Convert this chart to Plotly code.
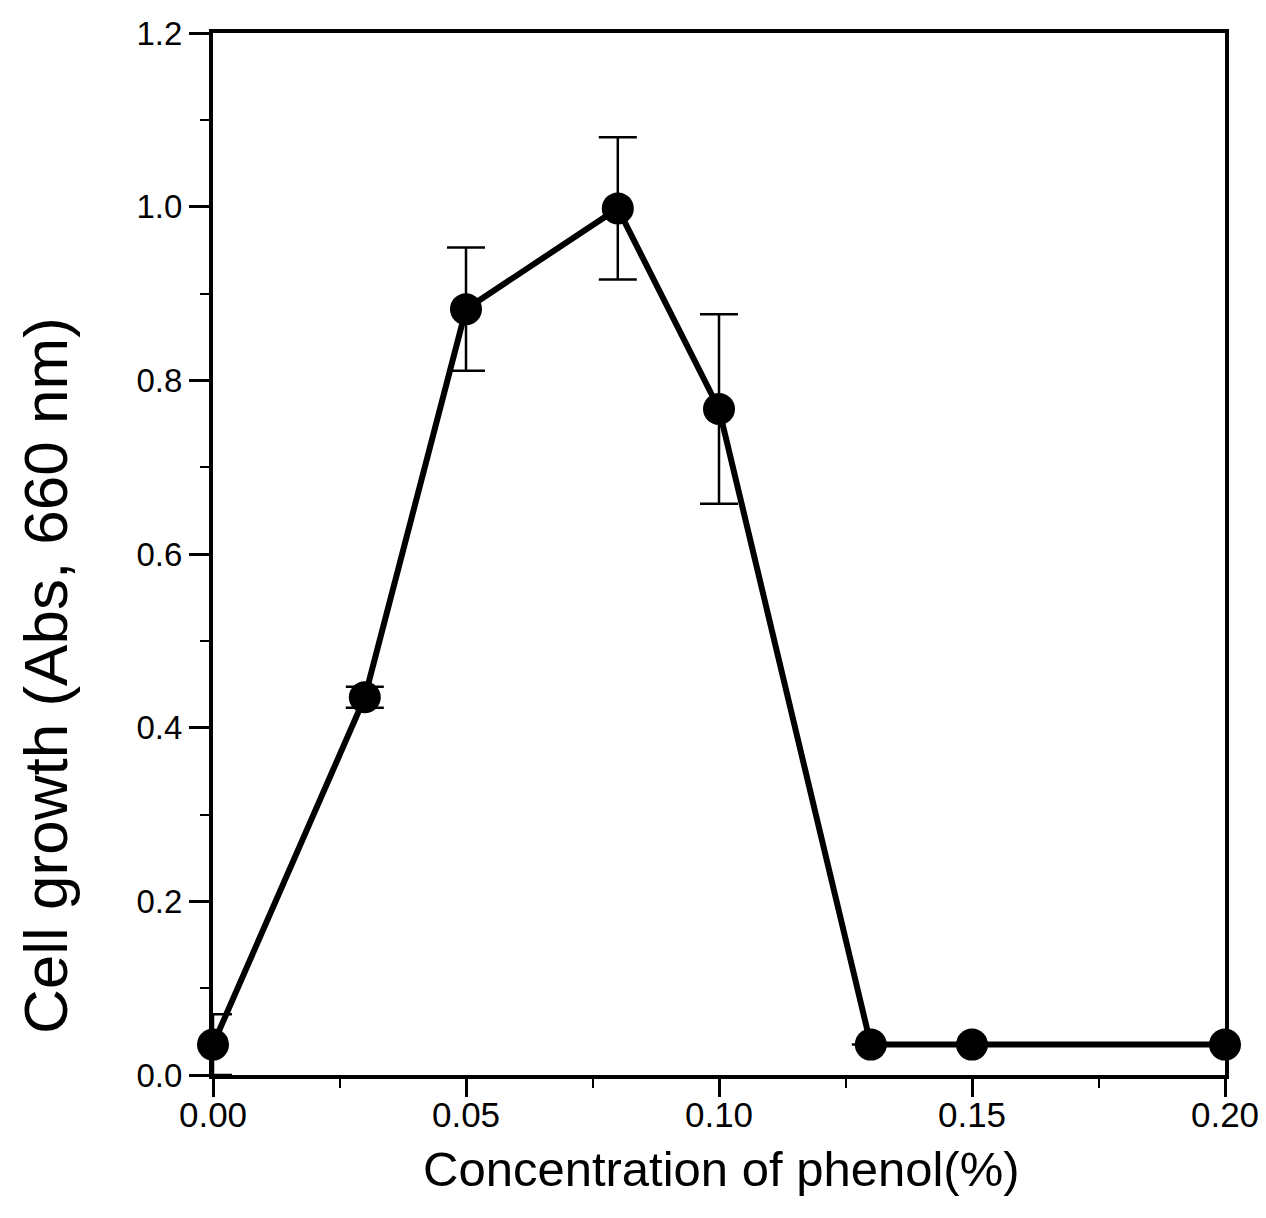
import plotly.graph_objects as go

phenol = [0.00, 0.03, 0.05, 0.08, 0.10, 0.13, 0.15, 0.20]
growth = [0.035, 0.435, 0.882, 0.998, 0.767, 0.035, 0.035, 0.035]
err = [0.035, 0.012, 0.071, 0.082, 0.109, 0.0, 0.0, 0.0]

x_ticks = [0.00, 0.05, 0.10, 0.15, 0.20]
x_labels = ["0.00", "0.05", "0.10", "0.15", "0.20"]
y_ticks = [0.0, 0.2, 0.4, 0.6, 0.8, 1.0, 1.2]
y_labels = ["0.0", "0.2", "0.4", "0.6", "0.8", "1.0", "1.2"]

x_title = "Concentration of phenol(%)"
y_title = "Cell growth (Abs, 660 nm)"

fig = go.Figure()
fig.add_trace(go.Scatter(
    x=phenol, y=growth,
    mode="lines+markers",
    line=dict(color="black", width=6),
    marker=dict(color="black", size=32),
    error_y=dict(type="data", array=err, visible=True, color="black", thickness=2.5, width=19),
    cliponaxis=False,
    showlegend=False,
))

font_family = "Liberation Sans, Arial, sans-serif"
fig.update_layout(
    width=1258, height=1202,
    margin=dict(l=205, r=41, t=25, b=135, autoexpand=False),
    plot_bgcolor="white", paper_bgcolor="white",
    font=dict(family=font_family, color="black"),
    xaxis=dict(
        range=[0, 0.2], tickvals=x_ticks, ticktext=x_labels,
        ticks="outside", ticklen=18, tickwidth=3, tickcolor="black",
        minor=dict(dtick=0.025, ticks="outside", ticklen=9, tickwidth=2, tickcolor="black"),
        showline=True, linewidth=4, linecolor="black", mirror=True,
        showgrid=False, zeroline=False,
        tickfont=dict(size=35, family=font_family),
        ticklabelstandoff=-12, ticklabeloverflow="allow",
    ),
    yaxis=dict(
        range=[0, 1.2], tickvals=y_ticks, ticktext=y_labels,
        ticks="outside", ticklen=20, tickwidth=3, tickcolor="black",
        minor=dict(dtick=0.1, ticks="outside", ticklen=9, tickwidth=2, tickcolor="black"),
        showline=True, linewidth=4, linecolor="black", mirror=True,
        showgrid=False, zeroline=False,
        tickfont=dict(size=33, family=font_family),
    ),
    annotations=[
        dict(text=x_title, xref="paper", yref="paper", x=0.5025, y=-0.090,
             xanchor="center", yanchor="middle", showarrow=False,
             font=dict(size=49, family=font_family, color="black")),
        dict(text=y_title, xref="paper", yref="paper", x=-0.165, y=0.383,
             xanchor="center", yanchor="middle", showarrow=False, textangle=-90,
             font=dict(size=62, family=font_family, color="black")),
    ],
)

fig.write_html("out.html")
